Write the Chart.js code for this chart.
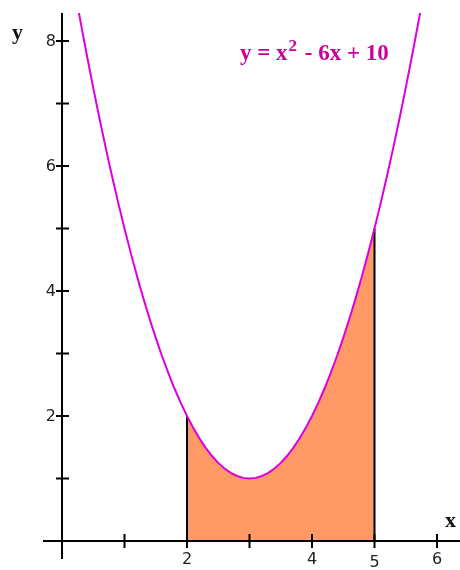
<!DOCTYPE html>
<html>
<head>
<meta charset="utf-8">
<script src="https://cdn.jsdelivr.net/npm/chart.js@4.4.1/dist/chart.umd.min.js"></script>
<style>
  html, body { margin: 0; padding: 0; background: #fff; }
  canvas { display: block; }
</style>
</head>
<body>
<canvas id="areaChart" width="460" height="570"></canvas>
<script>
// y = x^2 - 6x + 10
const curveX = [0.2, 0.3, 0.4, 0.5, 0.6, 0.7, 0.8, 0.9, 1, 1.1, 1.2, 1.3, 1.4, 1.5, 1.6, 1.7, 1.8, 1.9,
                2, 2.1, 2.2, 2.3, 2.4, 2.5, 2.6, 2.7, 2.8, 2.9, 3, 3.1, 3.2, 3.3, 3.4, 3.5, 3.6, 3.7, 3.8, 3.9,
                4, 4.1, 4.2, 4.3, 4.4, 4.5, 4.6, 4.7, 4.8, 4.9, 5, 5.1, 5.2, 5.3, 5.4, 5.5, 5.6, 5.7, 5.8];
const curveY = [8.84, 8.29, 7.76, 7.25, 6.76, 6.29, 5.84, 5.41, 5, 4.61, 4.24, 3.89, 3.56, 3.25, 2.96, 2.69, 2.44, 2.21,
                2, 1.81, 1.64, 1.49, 1.36, 1.25, 1.16, 1.09, 1.04, 1.01, 1, 1.01, 1.04, 1.09, 1.16, 1.25, 1.36, 1.49, 1.64, 1.81,
                2, 2.21, 2.44, 2.69, 2.96, 3.25, 3.56, 3.89, 4.24, 4.61, 5, 5.41, 5.84, 6.29, 6.76, 7.25, 7.76, 8.29, 8.84];

// shaded strip goes from x = 2 to x = 5
const areaFrom = 2;
const areaTo = 5;

const xTicks = [1, 2, 3, 4, 5, 6];
const xTickLabels = ["", "2", "", "4", "5", "6"];
const yTicks = [1, 2, 3, 4, 5, 6, 7, 8];
const yTickLabels = ["", "2", "", "4", "", "6", "", "8"];

const curvePts = curveX.map((x, i) => ({ x: x, y: curveY[i] }));
const areaPts = curvePts.filter(p => p.x >= areaFrom && p.x <= areaTo);
const leftEdge = [{ x: areaFrom, y: 0 }, areaPts[0]];
const rightEdge = [{ x: areaTo, y: 0 }, areaPts[areaPts.length - 1]];

// axes through the origin with cross ticks, drawn from the chart's scales
const axesPlugin = {
  id: "axes",
  afterDatasetsDraw(chart) {
    const { ctx, scales: { x, y } } = chart;
    const x0 = x.getPixelForValue(0);
    const y0 = y.getPixelForValue(0);
    ctx.save();
    ctx.strokeStyle = "#000";
    ctx.lineWidth = 2;
    ctx.beginPath();
    ctx.moveTo(x.left, y0); ctx.lineTo(x.right + 2, y0);
    ctx.moveTo(x0, y.top); ctx.lineTo(x0, y.bottom);
    xTicks.forEach(v => {
      const px = x.getPixelForValue(v);
      ctx.moveTo(px, y0 - 7); ctx.lineTo(px, y0 + 7);
    });
    yTicks.forEach(v => {
      const py = y.getPixelForValue(v);
      ctx.moveTo(x0 - 6, py); ctx.lineTo(x0 + 7, py);
    });
    ctx.stroke();

    ctx.fillStyle = "#222";
    ctx.font = "16px 'DejaVu Sans'";
    ctx.textAlign = "center";
    ctx.textBaseline = "top";
    xTicks.forEach((v, i) => {
      if (xTickLabels[i]) ctx.fillText(xTickLabels[i], x.getPixelForValue(v), y0 + 11 + (v === 5 ? 3 : 0));
    });
    ctx.textAlign = "right";
    ctx.textBaseline = "middle";
    yTicks.forEach((v, i) => {
      if (yTickLabels[i]) ctx.fillText(yTickLabels[i], x0 - 6, y.getPixelForValue(v) + 1);
    });

    // axis names
    ctx.fillStyle = "#111";
    ctx.font = "bold 22px 'Liberation Serif'";
    ctx.textAlign = "left";
    ctx.textBaseline = "alphabetic";
    ctx.fillText("x", 445, 527);
    ctx.fillText("y", 12, 39);

    // equation label
    ctx.fillStyle = "#cc0099";
    ctx.font = "bold 23px 'Liberation Serif'";
    let tx = 240;
    const base = 60;
    ctx.fillText("y = x", tx, base);
    tx += ctx.measureText("y = x").width;
    ctx.font = "bold 17px 'Liberation Serif'";
    ctx.fillText("2", tx + 1, base - 9);
    tx += ctx.measureText("2").width + 3;
    ctx.font = "bold 23px 'Liberation Serif'";
    ctx.fillText(" - 6x + 10", tx, base);
    ctx.restore();
  }
};

const ctx = document.getElementById("areaChart").getContext("2d");
new Chart(ctx, {
  type: "scatter",
  data: {
    datasets: [
      { data: curvePts, showLine: true, borderColor: "#dd00dd", borderWidth: 2, pointRadius: 0, fill: false },
      { data: leftEdge, showLine: true, borderColor: "#000", borderWidth: 2, pointRadius: 0, fill: false },
      { data: rightEdge, showLine: true, borderColor: "#000", borderWidth: 2, pointRadius: 0, fill: false },
      { data: areaPts, showLine: true, borderWidth: 0, borderColor: "rgba(0,0,0,0)", backgroundColor: "#ff9966", pointRadius: 0, fill: "origin" }
    ]
  },
  options: {
    responsive: false,
    animation: false,
    layout: { padding: { left: 43, right: 1, top: 13, bottom: 11 } },
    plugins: { legend: { display: false }, tooltip: { enabled: false } },
    scales: {
      x: { type: "linear", min: -0.304, max: 6.352, display: false },
      y: { type: "linear", min: -0.288, max: 8.448, display: false }
    }
  },
  plugins: [axesPlugin]
});
</script>
</body>
</html>
